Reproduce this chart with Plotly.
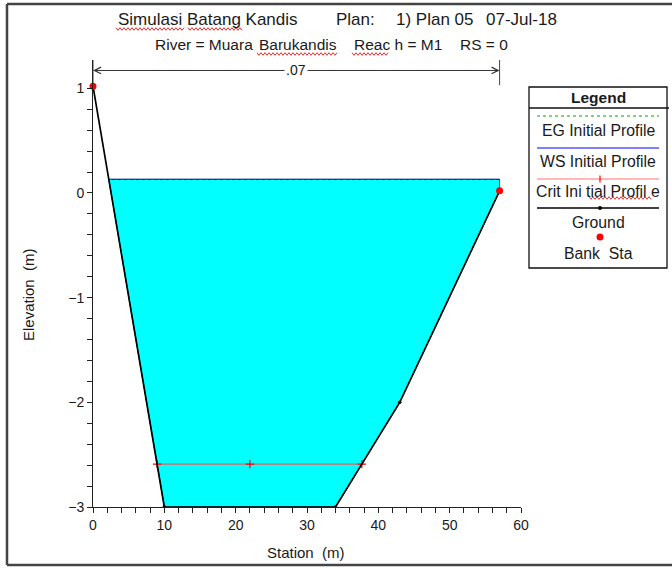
import numpy as np
import plotly.graph_objects as go

# ---- cross-section data ----
ground_sta = [0, 10, 34, 43, 57]
ground_elev = [1.02, -3.0, -3.0, -2.0, 0.02]
bank_sta = [0, 57]
bank_elev = [1.02, 0.02]
ws_elev = 0.13          # WS / EG initial profile
crit_elev = -2.59       # critical depth
crit_mid_sta = 22.0
mann_n_label = ".07"
x_ticks = [0, 10, 20, 30, 40, 50, 60]
y_ticks = [-3, -2, -1, 0, 1]

FONT = "Liberation Sans, Arial, sans-serif"
TXT = "#1a1a1a"
W, H = 672, 568
L, R, T, B = 93, 521, 60, 507          # plot area in pixels
X_RANGE = [0, 60]
Y_RANGE = [-3, 1.27]


def px(p):
    return (p - L) / (R - L)


def py(p):
    return (B - p) / (B - T)


def label(text, x, y, size=15, xanchor="center", **kw):
    fig.add_annotation(x=px(x), y=py(y), xref="paper", yref="paper", text=text,
                       xanchor=xanchor, yanchor="middle", showarrow=False,
                       font=dict(family=FONT, size=size, color=TXT), **kw)


# water surface edges from the ground profile
gx = np.array(ground_sta, dtype=float)
gy = np.array(ground_elev, dtype=float)
ws_left = float(np.interp(ws_elev, gy[1::-1], gx[1::-1]))
crit_left = float(np.interp(crit_elev, gy[1::-1], gx[1::-1]))
crit_right = float(np.interp(crit_elev, gy[2:4], gx[2:4]))

below = gy < ws_elev
poly_x = [ws_left] + list(gx[below]) + [gx[-1], ws_left]
poly_y = [ws_elev] + list(gy[below]) + [ws_elev, ws_elev]

fig = go.Figure()
fig.add_trace(go.Scatter(x=poly_x, y=poly_y, fill="toself", fillcolor="#00FFFF",
                         mode="lines", line=dict(color="#444", width=1),
                         hoverinfo="skip", showlegend=False))
fig.add_trace(go.Scatter(x=[ws_left, gx[-1]], y=[ws_elev, ws_elev], mode="lines",
                         line=dict(color="#0000FF", width=1), showlegend=False))
fig.add_trace(go.Scatter(x=[ws_left, gx[-1]], y=[ws_elev, ws_elev], mode="lines",
                         line=dict(color="#009900", width=1, dash="dot"), showlegend=False))
fig.add_trace(go.Scatter(x=[crit_left, crit_mid_sta, crit_right], y=[crit_elev] * 3,
                         mode="lines+markers", line=dict(color="#E06060", width=1.2),
                         marker=dict(symbol="cross-thin", size=6,
                                     line=dict(color="#FF0000", width=1.2)),
                         showlegend=False))
fig.add_trace(go.Scatter(x=ground_sta, y=ground_elev, mode="lines+markers",
                         line=dict(color="#000000", width=1.7),
                         marker=dict(color="#000000", size=3.5), showlegend=False))
fig.add_trace(go.Scatter(x=bank_sta, y=bank_elev, mode="markers",
                         marker=dict(color="#FF0000", size=7), cliponaxis=False,
                         showlegend=False))

# Manning's n dimension marker
n_y = 1.17
for s in bank_sta:
    fig.add_shape(type="line", xref="x", yref="y", x0=s, x1=s, y0=1.03, y1=Y_RANGE[1],
                  line=dict(color="#444", width=1))
n_mid = (bank_sta[0] + bank_sta[1]) / 2
for s in bank_sta:
    fig.add_annotation(x=s, y=n_y, ax=n_mid, ay=n_y, xref="x", yref="y",
                       axref="x", ayref="y", text="", showarrow=True,
                       arrowhead=5, arrowsize=1.3, arrowwidth=1, arrowcolor="#333")
fig.add_annotation(x=n_mid, y=n_y, xref="x", yref="y", text=mann_n_label,
                   showarrow=False, bgcolor="white", borderpad=1,
                   xanchor="center", yanchor="middle",
                   font=dict(family=FONT, size=14, color=TXT))

# titles
title_parts = [
    ("Simulasi Batang Kandis", 116, 20, 17),
    ("Plan:", 334, 20, 17),
    ("1) Plan 05", 394, 20, 17),
    ("07-Jul-18", 484, 20, 17),
    ("River = Muara", 153, 45, 15.5),
    ("Barukandis", 257, 45, 15.5),
    ("Reac h = M1", 352, 45, 15.5),
    ("RS = 0", 458, 45, 15.5),
]
for text, x0, y0, size in title_parts:
    label(text, x0, y0, size=size, xanchor="left")

label("Station  (m)", 306, 552)
label("Elevation  (m)", 28, 295, textangle=-90)


def squiggle(x0, x1, y, amp=1.3, step=2.0):
    pts = []
    x = x0
    k = 0
    while x <= x1:
        pts.append((px(x), py(y + (amp if k % 2 else -amp))))
        x += step
        k += 1
    d = "M " + " L ".join(f"{a:.5f},{b:.5f}" for a, b in pts)
    fig.add_shape(type="path", xref="paper", yref="paper", path=d,
                  line=dict(color="#E03030", width=1))


for a, b, y in [(116, 184, 29), (188, 242, 29), (257, 338, 54), (352, 388, 54), (589, 651, 198)]:
    squiggle(a, b, y)

# legend panel
LX0, LX1, LY0, LY1 = 529, 667, 87, 268
lc = (LX0 + LX1) / 2
fig.add_shape(type="rect", xref="paper", yref="paper", x0=px(LX0), x1=px(LX1),
              y0=py(LY1), y1=py(LY0), line=dict(color="#111", width=1.3), fillcolor="white",
              layer="below")
fig.add_shape(type="line", xref="paper", yref="paper", x0=px(LX0), x1=px(LX1 + 2),
              y0=py(108), y1=py(108), line=dict(color="#111", width=1.3))
label("<b>Legend</b>", lc, 97, size=15.5)

legend_rows = [
    ("EG Initial Profile", 116, 130, dict(color="#00AA00", width=1.2, dash="dot")),
    ("WS Initial Profile", 148, 161, dict(color="#0000FF", width=1.2)),
    ("Crit Ini tial Profil e", 179, 191, dict(color="#FF7070", width=1.2)),
    ("Ground", 208, 222, dict(color="#000000", width=1.5)),
]
for text, ly, ty, style in legend_rows:
    fig.add_shape(type="line", xref="paper", yref="paper", x0=px(537), x1=px(659),
                  y0=py(ly), y1=py(ly), line=style)
    label(text, lc, ty, size=15.8)

# crit "+" and ground dot in the legend
fig.add_shape(type="line", xref="paper", yref="paper", x0=px(600), x1=px(600),
              y0=py(175.5), y1=py(182.5), line=dict(color="#FF0000", width=1.2))
fig.add_shape(type="circle", xref="paper", yref="paper", x0=px(598), x1=px(602),
              y0=py(210), y1=py(206), line=dict(color="#000", width=0), fillcolor="#000")
fig.add_shape(type="circle", xref="paper", yref="paper", x0=px(596.5), x1=px(603.5),
              y0=py(240.5), y1=py(233.5), line=dict(color="#F00", width=0), fillcolor="#F00")
label("Bank  Sta", lc, 253, size=15.8)

# page frame
for x0, y0, x1, y1 in [(7, 4, W + 2, 4), (7, 4, 7, 565), (7, 565, W + 2, 565)]:
    fig.add_shape(type="line", xref="paper", yref="paper", x0=px(x0), x1=px(x1),
                  y0=py(y0), y1=py(y1), line=dict(color="#444", width=2.5))

axis_common = dict(showgrid=False, zeroline=False, showline=True, linecolor="#222",
                   linewidth=1, ticks="outside", ticklen=5, tickcolor="#222",
                   tickfont=dict(family=FONT, size=14, color=TXT))
fig.update_xaxes(range=X_RANGE, tickvals=x_ticks, **axis_common,
                 minor=dict(dtick=2, ticks="outside", ticklen=5, tickcolor="#222"))
fig.update_yaxes(range=Y_RANGE, tickvals=y_ticks, **axis_common,
                 minor=dict(tickvals=[round(v, 1) for v in np.arange(-3, 1.01, 0.2)],
                            ticks="outside", ticklen=5, tickcolor="#222"))

fig.update_layout(width=W, height=H, margin=dict(l=L, r=W - R, t=T, b=H - B),
                  plot_bgcolor="white", paper_bgcolor="white", showlegend=False)

fig.write_html("out.html")
